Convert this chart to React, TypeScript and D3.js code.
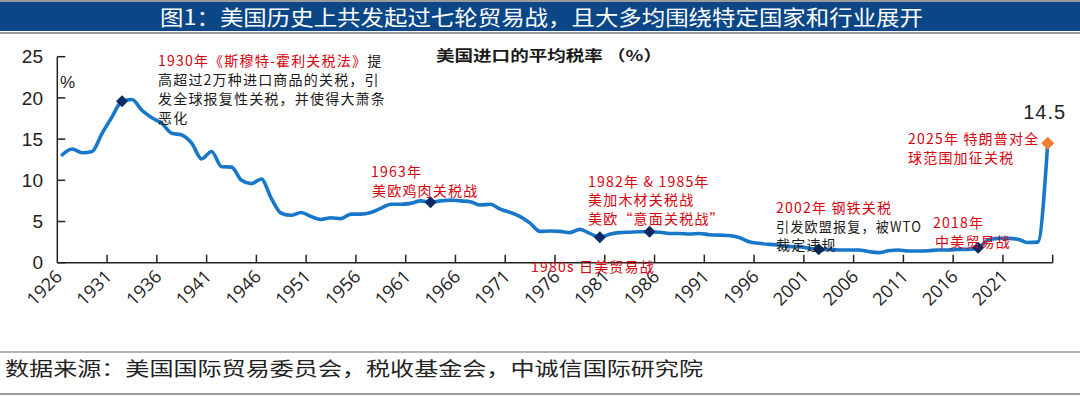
import React, { useEffect, useRef } from "react";
import * as d3 from "d3";

const years: number[] = [
  1926, 1927, 1928, 1929, 1930, 1931, 1932, 1933, 1934, 1935,
  1936, 1937, 1938, 1939, 1940, 1941, 1942, 1943, 1944, 1945,
  1946, 1947, 1948, 1949, 1950, 1951, 1952, 1953, 1954, 1955,
  1956, 1957, 1958, 1959, 1960, 1961, 1962, 1963, 1964, 1965,
  1966, 1967, 1968, 1969, 1970, 1971, 1972, 1973, 1974, 1975,
  1976, 1977, 1978, 1979, 1980, 1981, 1982, 1983, 1984, 1985,
  1986, 1987, 1988, 1989, 1990, 1991, 1992, 1993, 1994, 1995,
  1996, 1997, 1998, 1999, 2000, 2001, 2002, 2003, 2004, 2005,
  2006, 2007, 2008, 2009, 2010, 2011, 2012, 2013, 2014, 2015,
  2016, 2017, 2018, 2019, 2020, 2021, 2022, 2023, 2024, 2025,
];

const tariffRate: number[] = [
  13.1, 13.8, 13.35, 13.5, 15.7, 17.7, 19.6, 19.8, 18.5, 17.6,
  16.9, 15.7, 15.5, 14.5, 12.6, 13.5, 11.65, 11.6, 10.0, 9.6,
  10.15, 7.8, 6.0, 5.75, 6.1, 5.6, 5.25, 5.45, 5.35, 5.9,
  5.9, 6.1, 6.6, 7.1, 7.1, 7.2, 7.5, 7.33, 7.5, 7.6,
  7.5, 7.4, 7.0, 7.1, 6.5, 6.1, 5.6, 4.8, 3.8, 3.85,
  3.8, 3.65, 4.05, 3.55, 3.08, 3.45, 3.65, 3.7, 3.75, 3.76,
  3.7, 3.55, 3.55, 3.48, 3.55, 3.4, 3.35, 3.3, 3.05, 2.55,
  2.35, 2.22, 2.15, 1.95, 1.95, 1.75, 1.62, 1.62, 1.55, 1.55,
  1.55, 1.35, 1.22, 1.45, 1.55, 1.42, 1.42, 1.45, 1.55, 1.55,
  1.62, 1.62, 1.8, 2.75, 2.95, 2.95, 2.85, 2.45, 2.5, 14.5,
];

const tradeWarYears: number[] = [1932, 1963, 1980, 1985, 2002, 2018];
const latestYear = 2025;
const yTicks: number[] = [0, 5, 10, 15, 20, 25];
const xLabelEvery = 5;

const titleText = "图1：美国历史上共发起过七轮贸易战，且大多均围绕特定国家和行业展开";
const chartTitle = "美国进口的平均税率 （%）";
const sourceText = "数据来源：美国国际贸易委员会，税收基金会，中诚信国际研究院";

const RED = "#d7000f";
const BLACK = "#1a1a1a";
const CJK = "'Noto Sans CJK SC', 'Noto Sans', sans-serif";

const W = 1080;
const H = 396;
const x0 = 57.3;
const x1 = 1052.7;
const yBottom = 262.7;
const yTop = 56.7;

const x = d3.scaleBand<number>().domain(years).range([x0, x1]).padding(0);
const bw = x.bandwidth();
const cx = (yr: number) => (x(yr) as number) + bw / 2;
const y = d3.scaleLinear().domain([0, 25]).range([yBottom, yTop]);

export default function App() {
  const labelsRef = useRef<SVGGElement | null>(null);

  useEffect(() => {
    if (!labelsRef.current) return;
    const labelYears = years.filter((_, i) => i % xLabelEvery === 0);
    const g = d3.select(labelsRef.current);
    g.selectAll("*").remove();
    g.selectAll("text")
      .data(labelYears)
      .enter()
      .append("text")
      .attr("transform", (d) => `translate(${cx(d) + 1},${yBottom + 15}) rotate(-45)`)
      .attr("text-anchor", "end")
      .attr("font-family", "'Open Sans', sans-serif")
      .attr("font-size", 18)
      .attr("fill", "#222")
      .text((d) => String(d));
  }, []);

  const data = years.map((yr, i) => ({ yr, v: tariffRate[i] }));
  const linePath = d3
    .line<{ yr: number; v: number }>()
    .x((d) => cx(d.yr))
    .y((d) => y(d.v))
    .curve(d3.curveMonotoneX)(data) as string;

  const boundaryTicks: number[] = [];
  for (let i = xLabelEvery; i <= years.length; i += xLabelEvery) {
    boundaryTicks.push(i < years.length ? (x(years[i]) as number) : x1);
  }

  const diamond = (r: number) => `M0,${-r}L${r},0L0,${r}L${-r},0Z`;
  const valueOf = (yr: number) => tariffRate[years.indexOf(yr)];

  const ann = {
    fontFamily: CJK,
    fontSize: 14,
    letterSpacing: 1.2,
  } as React.CSSProperties;

  return (
    <div style={{ position: "fixed", left: 0, top: 0, width: W, height: H, background: "#fff" }}>
      <svg width={W} height={H} viewBox={`0 0 ${W} ${H}`}>
        <rect x={0} y={0} width={W} height={H} fill="#fff" />
        {/* Title bar */}
        <line x1={0} x2={W} y1={1} y2={1} stroke="#9a9a9a" strokeWidth={2} />
        <rect x={0} y={2} width={W} height={29} fill="#0b4687" />
        <line x1={0} x2={W} y1={33} y2={33} stroke="#9a9a9a" strokeWidth={2} />
        <text
          x={160}
          y={24.5}
          fill="#fff"
          fontFamily={CJK}
          fontSize={21}
          textLength={763}
          lengthAdjust="spacingAndGlyphs"
        >
          {titleText}
        </text>

        {/* Chart title */}
        <text
          x={436}
          y={60.5}
          fill={BLACK}
          fontFamily={CJK}
          fontSize={15}
          fontWeight={700}
          textLength={226}
          lengthAdjust="spacingAndGlyphs"
        >
          {chartTitle}
        </text>

        {/* Y axis */}
        <line x1={x0} x2={x0} y1={yTop} y2={yBottom} stroke="#222" strokeWidth={1.5} />
        {yTicks.map((t) => (
          <g key={t}>
            <line x1={x0} x2={x0 + 8} y1={y(t)} y2={y(t)} stroke="#222" strokeWidth={1.5} />
            <text
              x={43}
              y={y(t)}
              dy="0.35em"
              textAnchor="end"
              fontFamily="'Liberation Sans', Arial, sans-serif"
              fontSize={19}
              fill="#222"
            >
              {t}
            </text>
          </g>
        ))}
        <text x={60} y={87.5} fontFamily="'Liberation Sans', Arial, sans-serif" fontSize={17} fill="#222">
          %
        </text>

        {/* X axis */}
        <line x1={x0} x2={x1} y1={yBottom} y2={yBottom} stroke="#222" strokeWidth={1.5} />
        {boundaryTicks.map((bx, i) => (
          <line key={i} x1={bx} x2={bx} y1={yBottom} y2={yBottom - 8} stroke="#222" strokeWidth={1.5} />
        ))}
        <g ref={labelsRef} />

        {/* Line */}
        <path d={linePath} fill="none" stroke="#1877c9" strokeWidth={3.6} strokeLinejoin="round" strokeLinecap="round" />

        {/* Markers */}
        {tradeWarYears.map((yr) => (
          <path
            key={yr}
            d={diamond(6)}
            transform={`translate(${cx(yr)},${y(valueOf(yr))})`}
            fill="#0b2a63"
          />
        ))}
        <path
          d={diamond(6.5)}
          transform={`translate(${cx(latestYear)},${y(valueOf(latestYear))})`}
          fill="#ed7d31"
        />
        <text
          x={cx(latestYear) - 3}
          y={119}
          textAnchor="middle"
          fontFamily="'Liberation Sans', Arial, sans-serif"
          fontSize={20}
          fill="#222"
          letterSpacing={1}
        >
          {valueOf(latestYear)}
        </text>

        {/* Annotations */}
        <g style={ann}>
          <text x={158} y={66}>
            <tspan fill={RED}>1930年《斯穆特-霍利关税法》</tspan>
            <tspan fill={BLACK}>提</tspan>
          </text>
          <text x={158} y={85} fill={BLACK}>高超过2万种进口商品的关税，引</text>
          <text x={158} y={104} fill={BLACK}>发全球报复性关税，并使得大萧条</text>
          <text x={158} y={123} fill={BLACK}>恶化</text>

          <text x={371} y={177} fill={RED}>1963年</text>
          <text x={372} y={196} fill={RED}>美欧鸡肉关税战</text>

          <text x={588} y={187} fill={RED}>1982年 &amp; 1985年</text>
          <text x={588} y={205} fill={RED}>美加木材关税战</text>
          <text x={588} y={224} fill={RED}>美欧“意面关税战”</text>

          <text x={531} y={272} fill={RED}>1980s 日美贸易战</text>

          <text x={776} y={213} fill={RED}>2002年 钢铁关税</text>
          <text x={776} y={231.5} fill={BLACK} textLength={146} lengthAdjust="spacingAndGlyphs">
            引发欧盟报复，被WTO
          </text>
          <text x={776} y={249.5} fill={BLACK}>裁定违规</text>

          <text x={933} y={228} fill={RED}>2018年</text>
          <text x={935} y={247} fill={RED}>中美贸易战</text>

          <text x={908} y={144} fill={RED}>2025年 特朗普对全</text>
          <text x={908} y={163} fill={RED}>球范围加征关税</text>
        </g>

        {/* Footer */}
        <line x1={0} x2={W} y1={352} y2={352} stroke="#9a9a9a" strokeWidth={1.5} />
        <text
          x={5}
          y={376}
          fill="#222"
          fontFamily={CJK}
          fontSize={19}
          textLength={698}
          lengthAdjust="spacingAndGlyphs"
        >
          {sourceText}
        </text>
        <line x1={0} x2={W} y1={394} y2={394} stroke="#9a9a9a" strokeWidth={2} />
      </svg>
    </div>
  );
}
